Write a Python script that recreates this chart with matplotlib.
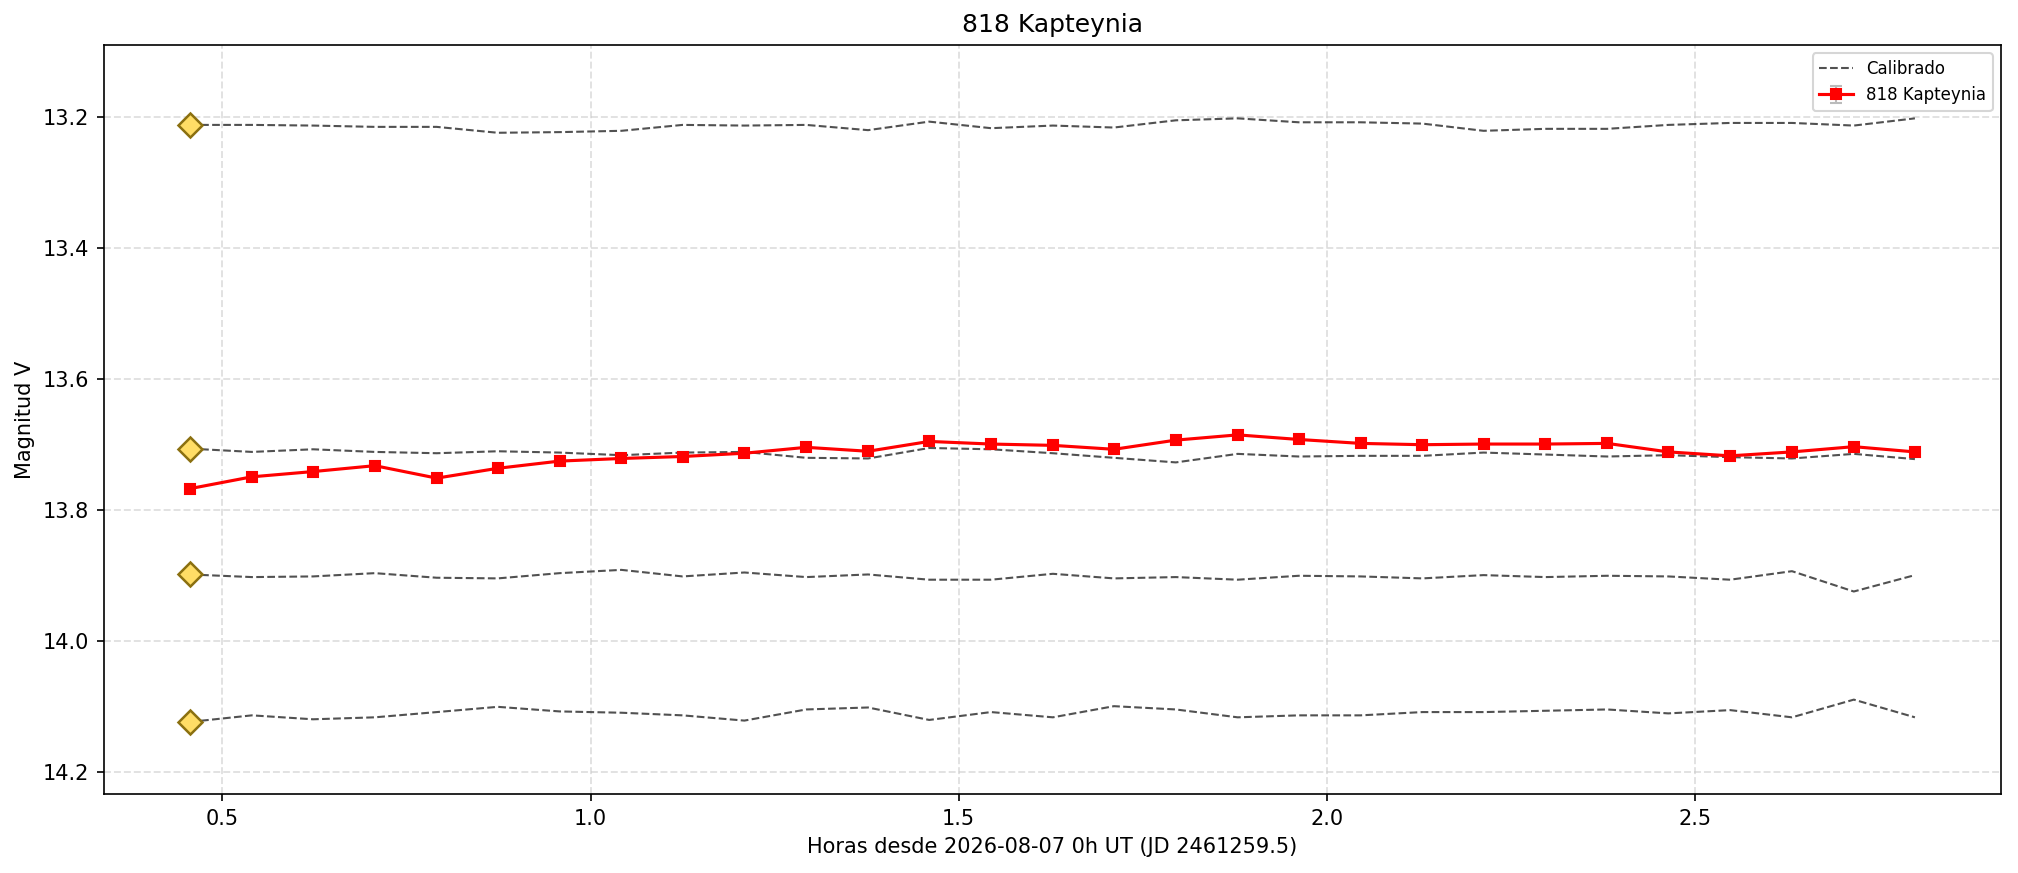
import matplotlib
matplotlib.use("Agg")
import matplotlib.pyplot as plt

hours = [0.456, 0.540, 0.623, 0.707, 0.791, 0.874, 0.958, 1.042, 1.125, 1.209,
         1.293, 1.377, 1.460, 1.544, 1.628, 1.711, 1.795, 1.879, 1.962, 2.046,
         2.130, 2.213, 2.297, 2.381, 2.464, 2.548, 2.632, 2.716, 2.799]

target_mag = [13.767, 13.749, 13.741, 13.732, 13.751, 13.736, 13.725, 13.721, 13.718, 13.713,
              13.704, 13.710, 13.695, 13.699, 13.701, 13.707, 13.693, 13.685, 13.692, 13.698,
              13.700, 13.699, 13.699, 13.698, 13.711, 13.717, 13.711, 13.703, 13.711]
target_err = [0.003, 0.003, 0.003, 0.003, 0.003, 0.003, 0.003, 0.003, 0.003, 0.003,
              0.003, 0.003, 0.003, 0.003, 0.003, 0.003, 0.003, 0.003, 0.003, 0.003,
              0.003, 0.003, 0.003, 0.003, 0.003, 0.003, 0.003, 0.003, 0.003]

comp1 = [13.212, 13.212, 13.213, 13.215, 13.215, 13.224, 13.223, 13.221, 13.212, 13.213,
         13.212, 13.220, 13.207, 13.217, 13.213, 13.216, 13.205, 13.202, 13.208, 13.208,
         13.210, 13.221, 13.218, 13.218, 13.212, 13.209, 13.209, 13.213, 13.202]
comp2 = [13.706, 13.711, 13.707, 13.711, 13.713, 13.710, 13.712, 13.716, 13.712, 13.711,
         13.720, 13.721, 13.705, 13.707, 13.713, 13.720, 13.727, 13.714, 13.718, 13.717,
         13.717, 13.712, 13.715, 13.718, 13.716, 13.719, 13.721, 13.714, 13.722]
comp3 = [13.898, 13.902, 13.901, 13.896, 13.903, 13.904, 13.896, 13.891, 13.901, 13.895,
         13.902, 13.898, 13.906, 13.906, 13.897, 13.904, 13.902, 13.906, 13.900, 13.901,
         13.904, 13.899, 13.902, 13.900, 13.901, 13.906, 13.893, 13.924, 13.899]
comp4 = [14.123, 14.113, 14.119, 14.116, 14.108, 14.100, 14.107, 14.109, 14.113, 14.121,
         14.104, 14.101, 14.120, 14.108, 14.116, 14.099, 14.104, 14.116, 14.113, 14.113,
         14.108, 14.108, 14.106, 14.104, 14.110, 14.105, 14.116, 14.089, 14.116]

ref_mags = [13.212, 13.706, 13.898, 14.123]

title = "818 Kapteynia"
xlabel = "Horas desde 2026-08-07 0h UT (JD 2461259.5)"
ylabel = "Magnitud V"

fig = plt.figure(figsize=(2018/150, 873/150), dpi=150)
ax = fig.add_axes([0.0515, 0.0905, 0.9401, 0.858])

for i, comp in enumerate([comp1, comp2, comp3, comp4]):
    ax.plot(hours, comp, linestyle="--", color="#333333", alpha=0.85, linewidth=1.0,
            label="Calibrado" if i == 0 else None, zorder=2)

ax.plot([hours[0]] * len(ref_mags), ref_mags, linestyle="none", marker="D",
        markersize=8, markerfacecolor="#FFDD66", markeredgecolor="#8B7010",
        markeredgewidth=1.2, zorder=4)

ax.errorbar(hours, target_mag, yerr=target_err, color="red", marker="s",
            markersize=5, linewidth=1.5, ecolor="#BBBBBB", elinewidth=1.0,
            capsize=3, label=title, zorder=3)

ax.set_xlim(0.339, 2.916)
ax.set_ylim(14.233, 13.09)
ax.set_xticks([0.5, 1.0, 1.5, 2.0, 2.5])
ax.set_yticks([13.2, 13.4, 13.6, 13.8, 14.0, 14.2])
ax.grid(True, linestyle="--", color="#cccccc", alpha=0.6, linewidth=0.9)
ax.set_axisbelow(True)

ax.set_title(title, fontsize=12)
ax.set_xlabel(xlabel, fontsize=10)
ax.set_ylabel(ylabel, fontsize=10)
ax.legend(loc="upper right", fontsize=8)

fig.savefig("out.png", dpi=150)
